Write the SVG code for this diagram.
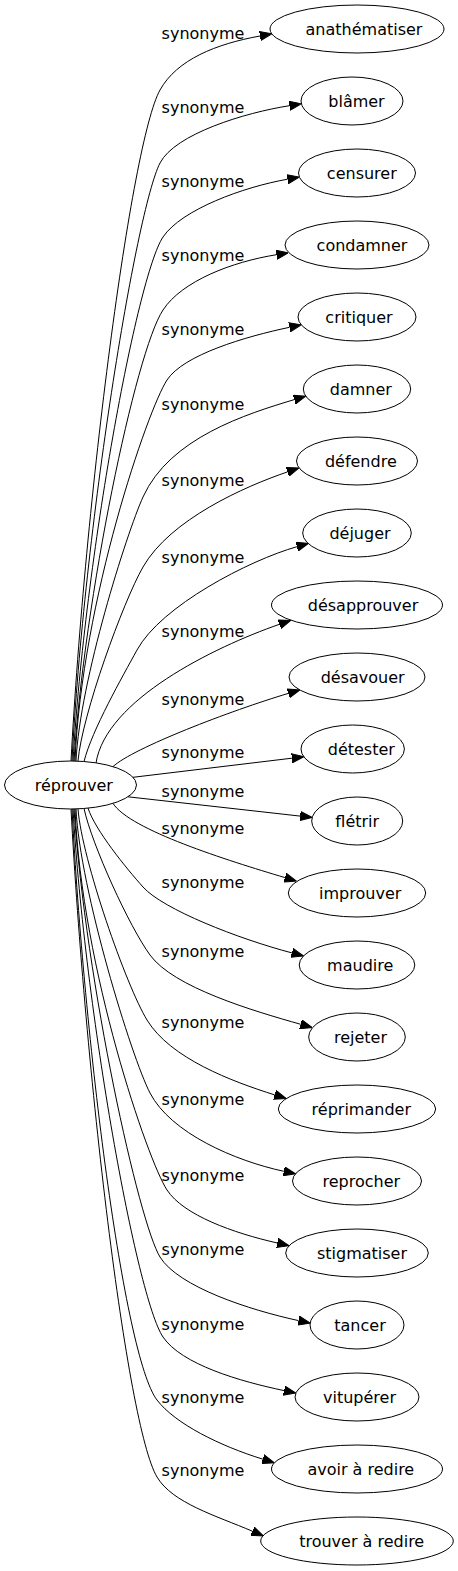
<svg xmlns="http://www.w3.org/2000/svg" width="458" height="1571" viewBox="0 0 458 1571">
<style>
.node ellipse{fill:none;stroke:#000;stroke-width:1}
.node text{font-family:"DejaVu Sans",sans-serif;font-size:16px;text-anchor:middle;fill:#000}
#edges path{fill:none;stroke:#000;stroke-width:1;marker-end:url(#ah)}
#edges text{font-family:"DejaVu Sans",sans-serif;font-size:16px;text-anchor:middle;fill:#000}
</style>
<defs>
<marker id="ah" viewBox="0 -5 12 10" refX="0" refY="0" markerWidth="12" markerHeight="10" markerUnits="userSpaceOnUse" orient="auto"><path d="M0,-4.6L12,0L0,4.6z" fill="#000" stroke="#000" stroke-width="1"/></marker>
</defs>
<rect width="458" height="1571" fill="#fff"/>
<g id="edges">
<path d="M71,761 C85,500 131,142 160,90 C177,59.5 216,44 260,36"/>
<path d="M72,761 C84,528 136,210 160,163 C175,134 245,112.6 289.5,105.7"/>
<path d="M73,761 C85,557 137,276 163,237 C181.5,209.6 243.3,187 287.6,179.2"/>
<path d="M74,761 C84,600 135.5,351.5 163,310 C182,281 232.1,261.8 276.5,254.7"/>
<path d="M75,761 C82,600 148,409 167,380 C183.5,354.8 245.4,336.6 289.5,327.3"/>
<path d="M76,761 C80,680 126.6,533.4 143,497 C169.7,437.9 246.4,414 294.3,399.6"/>
<path d="M78,761 C82,715 123,602 143,567 C170.3,519.3 244.9,486.4 287.5,471.9"/>
<path d="M84,761.5 C92,730 122.6,676.4 137,650 C161,606 248.8,560.4 296.9,546.7"/>
<path d="M96,763 C106,700 213.3,647.4 279.4,624.3"/>
<path d="M113,766.6 C133,748 230.8,710.6 288.3,693.4"/>
<path d="M133,777.3 L291.9,758.2"/>
<path d="M128,796.8 L300.2,816.1"/>
<path d="M113,803.4 C130,830 227.4,860.4 284.9,877.6"/>
<path d="M88,808 C95,830 126.4,868.4 143,887 C163,909.4 238.7,938.9 291.9,952.9"/>
<path d="M84,808.5 C92,845 129.4,926.7 150,955 C173.6,987.4 252.6,1010.7 300.7,1024.3"/>
<path d="M78,809 C82,860 126.2,985.8 147,1020 C170.4,1058.4 231.8,1081.4 274.7,1094.9"/>
<path d="M76,809 C80,890 131.6,1057.5 150,1093 C170.7,1133 234.9,1160.8 283.8,1171.3"/>
<path d="M75,809 C82,970 148,1161 167,1190 C183.5,1215.2 233.5,1233.1 277.4,1243"/>
<path d="M74,809 C86,985 139.1,1222.9 160,1257 C178.3,1286.8 249.6,1310 298.5,1320.6"/>
<path d="M73,809 C85,1013 136.7,1298 163,1337 C181.5,1364.4 240,1381.4 284.1,1390.6"/>
<path d="M72,809 C84,1040 123.6,1356.4 157,1400 C175.2,1423.8 219.9,1445.9 262.9,1459.2"/>
<path d="M71,809 C85,1070 126.4,1425.4 157,1477 C172.3,1502.8 215.6,1515.6 252.4,1531.2"/>
<text x="203" y="39.3">synonyme</text>
<text x="203" y="113.3">synonyme</text>
<text x="203" y="186.7">synonyme</text>
<text x="203" y="260.7">synonyme</text>
<text x="203" y="335">synonyme</text>
<text x="203" y="410">synonyme</text>
<text x="203" y="486">synonyme</text>
<text x="203" y="562.7">synonyme</text>
<text x="203" y="636.7">synonyme</text>
<text x="203" y="705">synonyme</text>
<text x="203" y="758.3">synonyme</text>
<text x="203" y="796.7">synonyme</text>
<text x="203" y="834">synonyme</text>
<text x="203" y="888.3">synonyme</text>
<text x="203" y="956.7">synonyme</text>
<text x="203" y="1028.3">synonyme</text>
<text x="203" y="1105">synonyme</text>
<text x="203" y="1181">synonyme</text>
<text x="203" y="1255">synonyme</text>
<text x="203" y="1330">synonyme</text>
<text x="203" y="1403.3">synonyme</text>
<text x="203" y="1475.7">synonyme</text>
</g>
<g id="n-reprouver" class="node"><ellipse cx="70.5" cy="785" rx="66" ry="24"/><text x="73.8" y="790.7">réprouver</text></g>
<g id="n-anathematiser" class="node"><ellipse cx="357" cy="29" rx="87" ry="24"/><text x="364" y="34.7">anathématiser</text></g>
<g id="n-blamer" class="node"><ellipse cx="352" cy="101" rx="51" ry="24"/><text x="356.5" y="106.7">blâmer</text></g>
<g id="n-censurer" class="node"><ellipse cx="357" cy="173" rx="58.5" ry="24"/><text x="361.8" y="178.7">censurer</text></g>
<g id="n-condamner" class="node"><ellipse cx="357" cy="245" rx="72" ry="24"/><text x="362" y="250.7">condamner</text></g>
<g id="n-critiquer" class="node"><ellipse cx="357" cy="317" rx="59" ry="24"/><text x="359" y="322.7">critiquer</text></g>
<g id="n-damner" class="node"><ellipse cx="357" cy="389" rx="53.7" ry="24"/><text x="360.8" y="394.7">damner</text></g>
<g id="n-defendre" class="node"><ellipse cx="357" cy="461" rx="60.5" ry="24"/><text x="360.8" y="466.7">défendre</text></g>
<g id="n-dejuger" class="node"><ellipse cx="357" cy="533" rx="54.3" ry="24"/><text x="360" y="538.7">déjuger</text></g>
<g id="n-desapprouver" class="node"><ellipse cx="357" cy="605" rx="85.5" ry="24"/><text x="363" y="610.7">désapprouver</text></g>
<g id="n-desavouer" class="node"><ellipse cx="357" cy="677" rx="68" ry="24"/><text x="362.7" y="682.7">désavouer</text></g>
<g id="n-detester" class="node"><ellipse cx="352.7" cy="749" rx="51.7" ry="24"/><text x="361.3" y="754.7">détester</text></g>
<g id="n-fletrir" class="node"><ellipse cx="357.2" cy="821" rx="45.5" ry="24"/><text x="357.2" y="826.7">flétrir</text></g>
<g id="n-improuver" class="node"><ellipse cx="357" cy="893" rx="68.7" ry="24"/><text x="360.2" y="898.7">improuver</text></g>
<g id="n-maudire" class="node"><ellipse cx="357" cy="965" rx="57.8" ry="24"/><text x="360.2" y="970.7">maudire</text></g>
<g id="n-rejeter" class="node"><ellipse cx="357" cy="1037" rx="48.3" ry="24"/><text x="360.5" y="1042.7">rejeter</text></g>
<g id="n-reprimander" class="node"><ellipse cx="357" cy="1109" rx="78.7" ry="24"/><text x="361.3" y="1114.7">réprimander</text></g>
<g id="n-reprocher" class="node"><ellipse cx="357" cy="1181" rx="64.5" ry="24"/><text x="361.3" y="1186.7">reprocher</text></g>
<g id="n-stigmatiser" class="node"><ellipse cx="357" cy="1253" rx="71.3" ry="24"/><text x="362" y="1258.7">stigmatiser</text></g>
<g id="n-tancer" class="node"><ellipse cx="357" cy="1325" rx="47" ry="24"/><text x="360" y="1330.7">tancer</text></g>
<g id="n-vituperer" class="node"><ellipse cx="357" cy="1397" rx="62" ry="24"/><text x="359.5" y="1402.7">vitupérer</text></g>
<g id="n-avoir-a-redire" class="node"><ellipse cx="357" cy="1469" rx="85.5" ry="24"/><text x="360.8" y="1474.7">avoir à redire</text></g>
<g id="n-trouver-a-redire" class="node"><ellipse cx="357" cy="1541" rx="96.3" ry="24"/><text x="361.7" y="1546.7">trouver à redire</text></g>
</svg>
